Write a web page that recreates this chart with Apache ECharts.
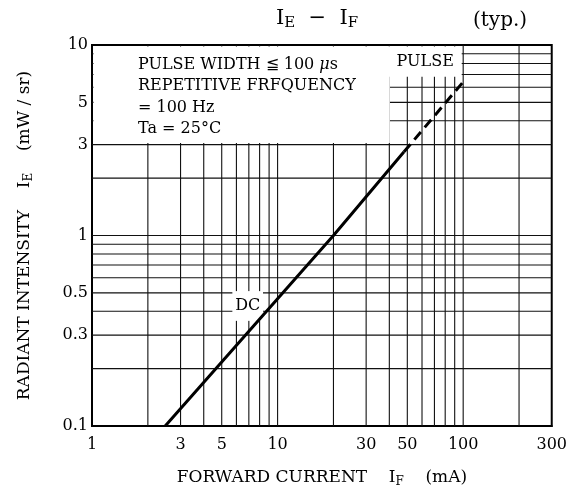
<!DOCTYPE html>
<html lang="en">
<head>
<meta charset="UTF-8">
<title>IE - IF</title>
<style>
  html, body { margin: 0; padding: 0; background: #fff; }
  #chart { width: 570px; height: 493px; }
</style>
</head>
<body>
<div id="chart"></div>
<script src="https://cdn.jsdelivr.net/npm/echarts@6/dist/echarts.min.js"></script>
<script>
// axis range (mA, mW/sr)
const X_MIN = 1, X_MAX = 300
const Y_MIN = 0.1, Y_MAX = 10

const xTickLabels = [1, 3, 5, 10, 30, 50, 100, 300]
const yTickLabels = [0.1, 0.3, 0.5, 1, 3, 5, 10]

// log paper grid lines
const gridX = [2, 3, 4, 5, 6, 7, 8, 9, 10, 20, 30, 40, 50, 60, 70, 80, 90, 100, 200]
const gridY = [0.2, 0.3, 0.4, 0.5, 0.6, 0.7, 0.8, 0.9, 1, 2, 3, 4, 5, 6, 7, 8, 9]

// DC part of the curve (solid)
const dcCurrent = [2.48, 4.76, 10, 20, 48]
const dcIntensity = [0.1, 0.205, 0.465, 1.0, 2.75]
// pulse part (dashed)
const pulseCurrent = [48, 100]
const pulseIntensity = [2.75, 6.4]

// white patches hiding the grid behind the notes (data units)
const maskBoxes = [
  { x0: 1, y0: 3, x1: 41, y1: 10, label: '' },
  { x0: 39, y0: 6.7, x1: 100, y1: 10, label: 'PULSE' },
  { x0: 5.6, y0: 0.35, x1: 8.5, y1: 0.52, label: 'DC' }
]

const FONT = 'DejaVu Serif'

const chart = echarts.init(document.getElementById('chart'))

function vLine(params, api) {
  const a = api.coord([api.value(0), Y_MAX])
  const b = api.coord([api.value(0), Y_MIN])
  return { type: 'line', shape: { x1: a[0], y1: a[1], x2: b[0], y2: b[1] }, style: { stroke: '#111', lineWidth: 1.1 } }
}

function hLine(params, api) {
  const a = api.coord([X_MIN, api.value(1)])
  const b = api.coord([X_MAX, api.value(1)])
  return { type: 'line', shape: { x1: a[0], y1: a[1], x2: b[0], y2: b[1] }, style: { stroke: '#111', lineWidth: 1.1 } }
}

function maskItem(params, api) {
  const p0 = api.coord([api.value(0), api.value(3)])
  const p1 = api.coord([api.value(2), api.value(1)])
  const inset = 1.5
  const x = p0[0] + inset, y = p0[1] + inset
  const w = p1[0] - p0[0] - 2 * inset, h = p1[1] - p0[1] - 2 * inset
  const box = maskBoxes[params.dataIndex]
  return {
    type: 'group',
    children: [
      { type: 'rect', shape: { x: x, y: y, width: w, height: h }, style: { fill: '#fff' } },
      {
        type: 'text',
        style: {
          text: box.label, x: x + w / 2, y: y + h / 2,
          align: 'center', verticalAlign: 'middle',
          font: '16px ' + FONT, fill: '#000'
        }
      }
    ]
  }
}

const labelFmt = v => String(+(+v).toPrecision(2))

const richTitle = {
  m: { fontFamily: FONT, fontSize: 21, fontWeight: 'normal', color: '#000' },
  s: { fontFamily: FONT, fontSize: 15, fontWeight: 'normal', color: '#000', padding: [9, 0, 0, 0] }
}
const richAxis = {
  m: { fontFamily: FONT, fontSize: 17, fontWeight: 'normal', color: '#000' },
  s: { fontFamily: FONT, fontSize: 12, fontWeight: 'normal', color: '#000', padding: [8, 0, 0, 0] }
}

const noteLines = [
  '{n|PULSE WIDTH ≦ 100 }{i|μ}{n|s}',
  '{n|REPETITIVE FRFQUENCY}',
  '{n|= 100 Hz}',
  '{n|Ta = 25°C}'
]

chart.setOption({
  animation: false,
  backgroundColor: '#fff',
  title: [{
    text: '{m|I}{s|E}{m|  −  I}{s|F}',
    left: 276, top: 7, padding: 0,
    textStyle: { fontWeight: 'normal', rich: richTitle }
  }, {
    text: '(typ.)',
    left: 473, top: 11, padding: 0,
    textStyle: { fontFamily: FONT, fontSize: 20, fontWeight: 'normal', color: '#000' }
  }],
  grid: {
    left: 92, right: 17, top: 45, bottom: 65,
    show: true, borderColor: '#000', borderWidth: 2, backgroundColor: 'transparent'
  },
  xAxis: {
    type: 'log', logBase: 10, min: X_MIN, max: X_MAX,
    name: '{m|FORWARD CURRENT    I}{s|F}{m|    (mA)}',
    nameLocation: 'middle', nameGap: 42,
    nameTextStyle: { rich: richAxis },
    axisLine: { lineStyle: { color: '#000', width: 2 } },
    axisTick: { show: false },
    splitLine: { show: false },
    minorSplitLine: { show: false },
    axisLabel: {
      customValues: xTickLabels, formatter: labelFmt,
      fontFamily: FONT, fontSize: 16, color: '#000', margin: 11
    }
  },
  yAxis: {
    type: 'log', logBase: 10, min: Y_MIN, max: Y_MAX,
    name: '{m|RADIANT INTENSITY    I}{s|E}{m|    (mW / sr)}',
    nameLocation: 'middle', nameGap: 57,
    nameTextStyle: { rich: richAxis },
    axisLine: { lineStyle: { color: '#000', width: 2 } },
    axisTick: { show: false },
    splitLine: { show: false },
    axisLabel: {
      customValues: yTickLabels, formatter: labelFmt,
      fontFamily: FONT, fontSize: 16, color: '#000', margin: 4
    }
  },
  graphic: noteLines.map((t, i) => ({
    type: 'text', left: 138, top: 57 + i * 21.3, z: 20,
    style: {
      text: t,
      rich: {
        n: { fontFamily: FONT, fontSize: 16, fill: '#000' },
        i: { fontFamily: FONT, fontSize: 16, fontStyle: 'italic', fill: '#000' }
      }
    }
  })),
  series: [{
    type: 'custom', z: 1, silent: true,
    renderItem: vLine,
    data: gridX.map(v => [v, Y_MIN])
  }, {
    type: 'custom', z: 1, silent: true,
    renderItem: hLine,
    data: gridY.map(v => [X_MIN, v])
  }, {
    type: 'custom', z: 3, silent: true,
    renderItem: maskItem,
    encode: { x: [0, 2], y: [1, 3] },
    data: maskBoxes.map(b => [b.x0, b.y0, b.x1, b.y1])
  }, {
    type: 'line', z: 5, name: 'DC',
    symbol: 'none',
    lineStyle: { color: '#000', width: 3 },
    data: dcCurrent.map((x, i) => [x, dcIntensity[i]])
  }, {
    type: 'line', z: 5, name: 'PULSE',
    symbol: 'none',
    lineStyle: { color: '#000', width: 3, type: [10, 6] },
    data: pulseCurrent.map((x, i) => [x, pulseIntensity[i]])
  }]
})
</script>
</body>
</html>
